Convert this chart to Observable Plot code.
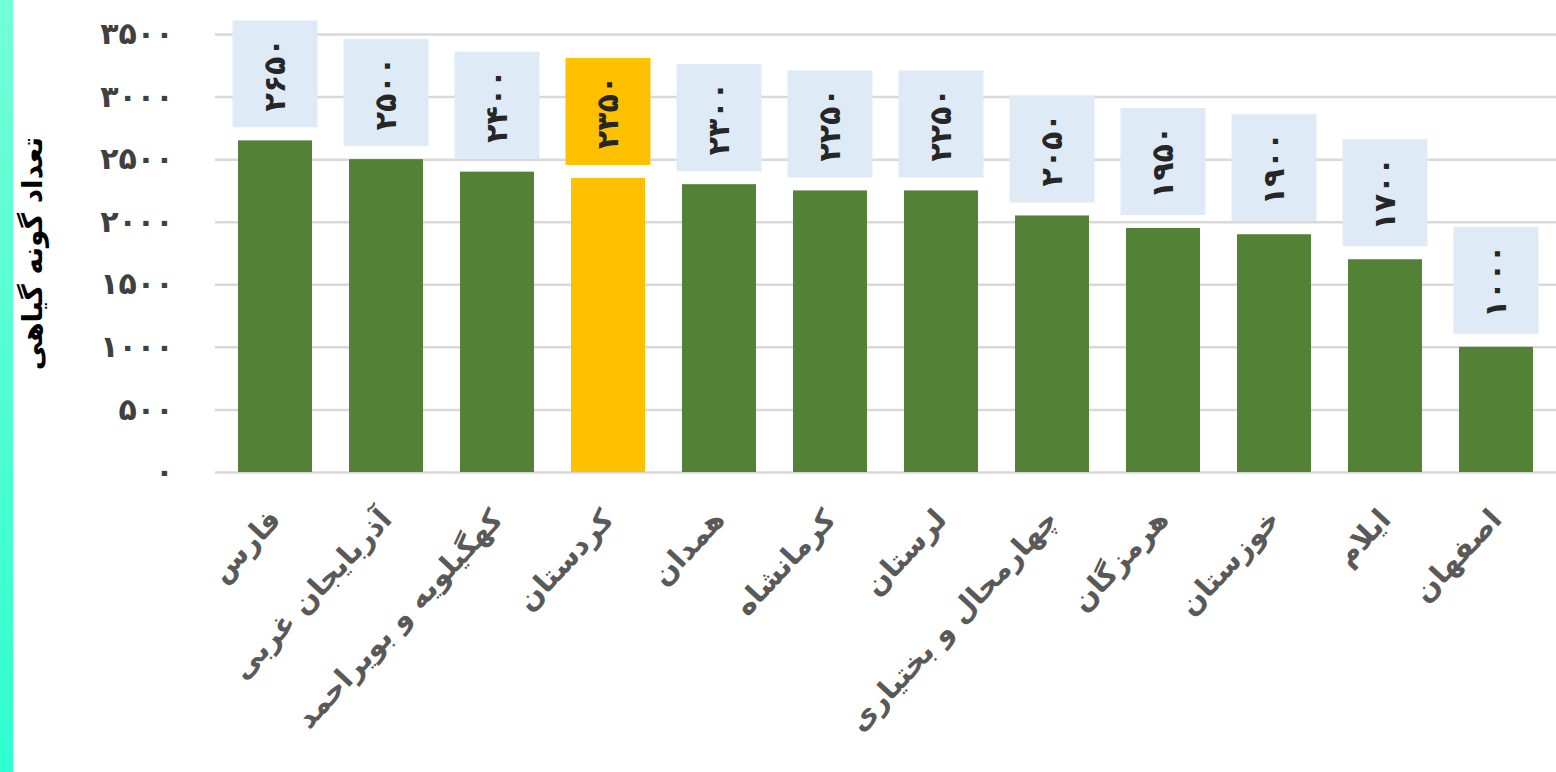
<!DOCTYPE html>
<html>
<head>
<meta charset="utf-8">
<script src="https://cdn.jsdelivr.net/npm/d3@7"></script>
<script src="https://cdn.jsdelivr.net/npm/@observablehq/plot@0.6"></script>
<style>
  html, body { margin: 0; padding: 0; background: #fff; }
  #wrap { position: relative; width: 1556px; height: 772px; overflow: hidden; }
  #strip { position: absolute; left: 0; top: 0; width: 13px; height: 772px;
           background: linear-gradient(to bottom, #74ffd6, #2effcf); }
  svg { font-family: "DejaVu Sans", sans-serif; }
</style>
</head>
<body>
<div id="wrap"><div id="strip"></div></div>
<script>
const provinces = ["فارس", "آذربایجان غربی", "کهگیلویه و بویراحمد", "کردستان", "همدان", "کرمانشاه",
  "لرستان", "چهارمحال و بختیاری", "هرمزگان", "خوزستان", "ایلام", "اصفهان"];
const speciesCount = [2650, 2500, 2400, 2350, 2300, 2250, 2250, 2050, 1950, 1900, 1700, 1000];
const highlighted = "کردستان";
const yTicks = [0, 500, 1000, 1500, 2000, 2500, 3000, 3500];
const yTickLabels = ["۰", "۵۰۰", "۱۰۰۰", "۱۵۰۰", "۲۰۰۰", "۲۵۰۰", "۳۰۰۰", "۳۵۰۰"];
const yTitle = "تعداد گونه گیاهی";

const faDigits = "۰۱۲۳۴۵۶۷۸۹";
const toFa = (n) => String(n).replace(/[0-9]/g, (c) => faDigits[+c]);

const data = provinces.map((name, i) => ({name, value: speciesCount[i], hi: name === highlighted}));

const chart = Plot.plot({
  width: 1556,
  height: 772,
  marginLeft: 215,
  marginRight: 0,
  marginTop: 34,
  marginBottom: 300,
  x: {domain: provinces, paddingInner: 0.335, paddingOuter: 0.1675, align: 0.5},
  y: {domain: [0, 3500]},
  style: {fontFamily: "DejaVu Sans, sans-serif", background: "transparent"},
  marks: [
    Plot.ruleY(yTicks, {stroke: "#d9d9d9", strokeWidth: 2.5}),
    Plot.barY(data, {x: "name", y: "value", fill: (d) => d.hi ? "#FFC000" : "#538135"}),
    Plot.barY(data, {x: "name", y1: "value", y2: "value",
      fill: (d) => d.hi ? "#FFC000" : "#DEEBF7",
      insetTop: -120, insetBottom: 13, insetLeft: -5.5, insetRight: -5.5}),
    Plot.text(data, {x: "name", y: "value", text: (d) => toFa(d.value), rotate: -90, dy: -66,
      fontSize: 30, fontWeight: "bold", fill: "#262626", textAnchor: "middle", lineAnchor: "middle"}),
    Plot.axisY({ticks: yTicks, tickFormat: (d, i) => yTickLabels[i], tickSize: 0, tickPadding: 42,
      fontSize: 30, fontWeight: "bold", fill: "#404040", label: null}),
    Plot.axisX({tickSize: 0, tickPadding: 42, tickRotate: -47, dx: 0,
      fontSize: 29, fontWeight: "bold", fill: "#595959", label: null}),
    Plot.text([yTitle], {frameAnchor: "left", dx: -182, rotate: -90, fontSize: 28, fontWeight: "bold",
      fill: "#000", textAnchor: "middle", lineAnchor: "middle"})
  ]
});
document.getElementById("wrap").appendChild(chart);
</script>
</body>
</html>
